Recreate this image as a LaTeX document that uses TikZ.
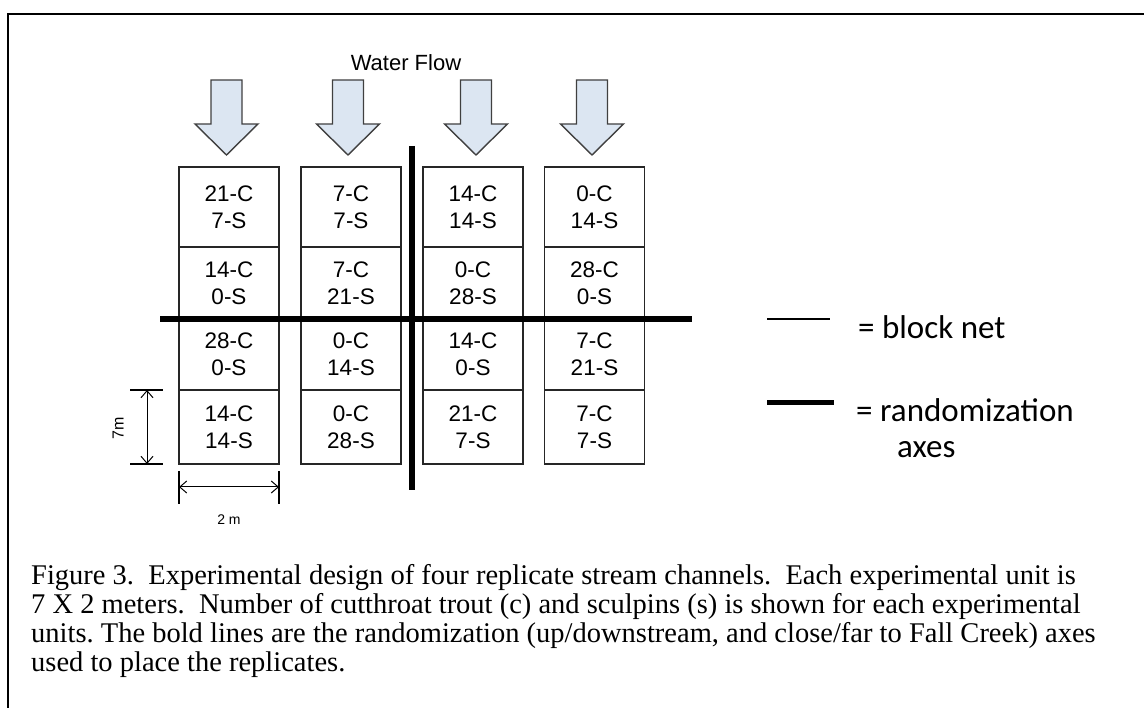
\documentclass[tikz,border=0pt]{standalone}
\usepackage{fontspec}
\setmainfont{Liberation Serif}
\newfontfamily\arialf{Liberation Sans}
\newfontfamily\calibf{Carlito}
\usetikzlibrary{arrows.meta}
\frenchspacing

\tikzset{
  cell/.style={draw=black!85, line width=1.3pt, inner sep=0pt, align=center,
    minimum width=100pt, font=\arialf\fontsize{22.5}{27}\selectfont},
  flow/.style={draw=black!75, line width=1.4pt, line join=miter},
  axisline/.style={line width=5.5pt, black},
  tick/.style={line width=2pt, black},
  dim/.style={line width=1pt, black, {Straight Barb[length=7pt,width=12pt]}-{Straight Barb[length=7pt,width=12pt]}},
  caption/.style={anchor=base west, inner sep=0pt, font=\fontsize{28.5}{29}\selectfont},
  legend/.style={anchor=west, inner sep=0pt, font=\calibf\fontsize{33}{38}\selectfont},
}
\definecolor{flowfill}{HTML}{DCE6F2}

\begin{document}
\begin{tikzpicture}[x=1pt,y=-1pt]
\useasboundingbox (0,0) rectangle (1144,708);

% frame
\draw[line width=2.5pt] (8,708) -- (8,14) -- (1144,14);

% title
\node[font=\arialf\fontsize{22}{26}\selectfont, inner sep=0pt] (title) at (406,63) {Water Flow};

% flow arrows
\foreach \cx in {226.5,348,476,592}{
  \draw[flow, fill=flowfill] (\cx-15.5,80) -- (\cx+15.5,80) -- (\cx+15.5,124) -- (\cx+31.5,124)
     -- (\cx,155) -- (\cx-31.5,124) -- (\cx-15.5,124) -- cycle;
}

% channel cells: column / centre x / counts from upstream to downstream
\foreach \c/\x/\a/\b/\e/\d in {1/229/21-C\\7-S/14-C\\0-S/28-C\\0-S/14-C\\14-S,
                             2/351/7-C\\7-S/7-C\\21-S/0-C\\14-S/0-C\\28-S,
                             3/473/14-C\\14-S/0-C\\28-S/14-C\\0-S/21-C\\7-S,
                             4/594.5/0-C\\14-S/28-C\\0-S/7-C\\21-S/7-C\\7-S}{
  \node[cell, minimum height=80pt] (c\c-1) at (\x,207) {\a};
  \node[cell, minimum height=72pt] (c\c-2) at (\x,283) {\b};
  \node[cell, minimum height=71pt] (c\c-3) at (\x,354.5) {\e};
  \node[cell, minimum height=74pt] (c\c-4) at (\x,427) {\d};
}

% randomization axes
\draw[axisline] (160,319) -- (692,319);
\draw[axisline] (412,146) -- (412,490);

% 7 m dimension
\draw[tick] (130,390) -- (163,390);
\draw[tick] (130,464) -- (163,464);
\coordinate (d7a) at (147,390);
\coordinate (d7b) at (147,464);
\draw[dim] (d7a) -- (d7b);
\node[rotate=90, font=\arialf\fontsize{16}{18}\selectfont, inner sep=0pt] (l7) at (118,428) {7m};

% 2 m dimension
\draw[tick] (179,471) -- (179,504);
\draw[tick] (279,471) -- (279,504);
\coordinate (d2a) at (179,487);
\coordinate (d2b) at (279,487);
\draw[dim] (d2a) -- (d2b);
\node[font=\arialf\fontsize{14}{17}\selectfont, inner sep=0pt] (l2) at (229,520) {2 m};

% legend
\draw[line width=1.5pt] (767,319) -- (830,319);
\node[legend] (lg1) at (858,327) {= block net};
\draw[line width=5pt] (767,403) -- (834,403);
\node[legend] (lg2) at (856,410) {= randomization};
\node[legend] (lg3) at (897,450) {axes};

% caption
\node[caption] (cap1) at (31,584) {Figure 3.\ \ Experimental design of four replicate stream channels.\ \ Each experimental unit is};
\node[caption] (cap2) at (31,613) {7 X 2 meters.\ \ Number of cutthroat trout (c) and sculpins (s) is shown for each experimental};
\node[caption] (cap3) at (31,642) {units. The bold lines are the randomization (up/downstream, and close/far to Fall Creek) axes};
\node[caption] (cap4) at (31,671) {used to place the replicates.};
\end{tikzpicture}
\end{document}
